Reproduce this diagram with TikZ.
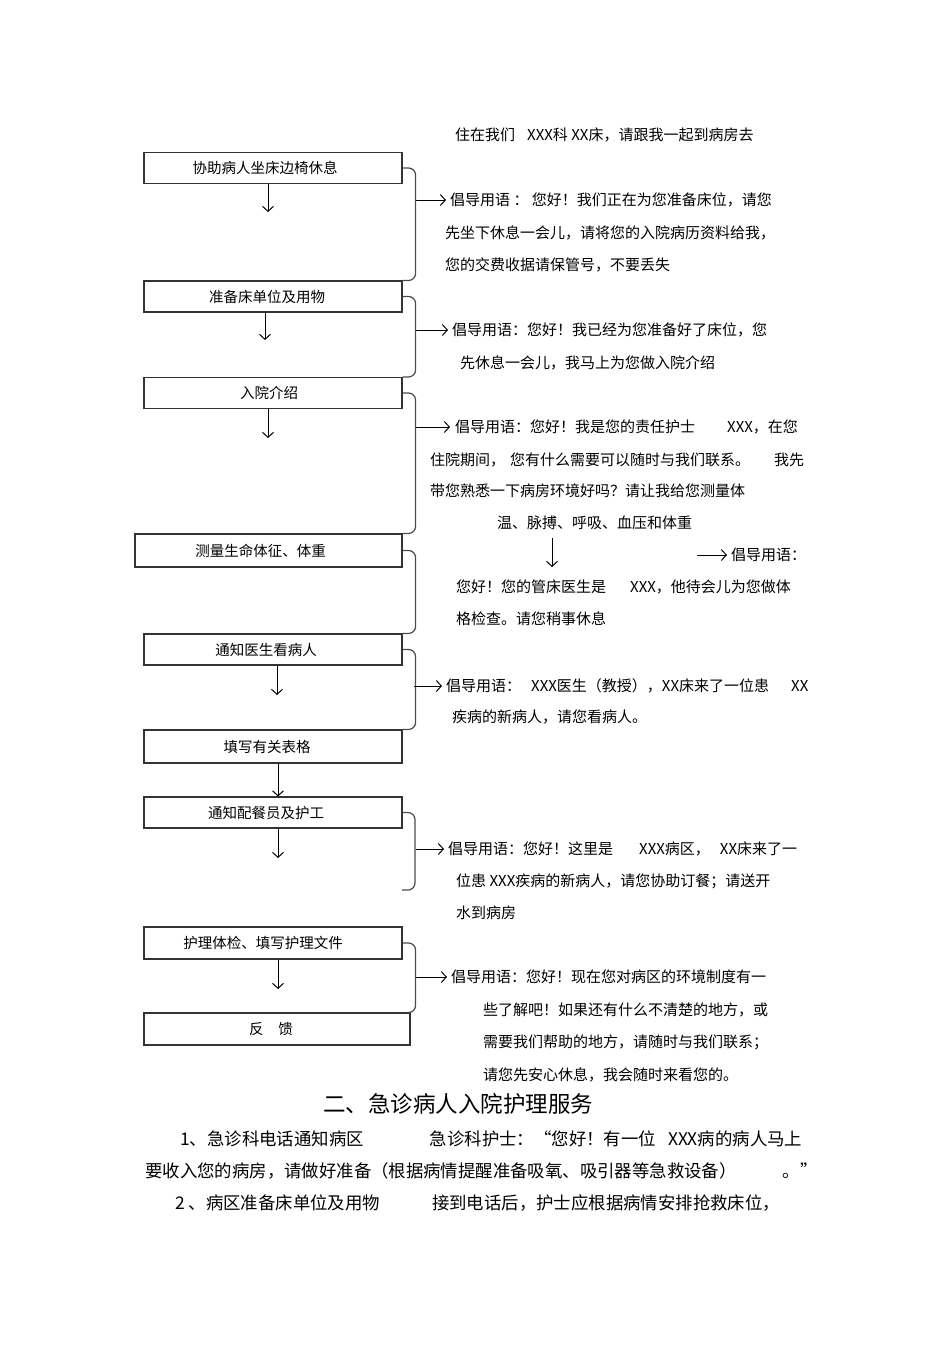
\documentclass[tikz,border=0pt]{standalone}
\usepackage{fontspec}
\setmainfont{Noto Sans CJK SC}
\usetikzlibrary{arrows.meta}

\begin{document}
\begin{tikzpicture}[x=1pt,y=1pt,
  stepbox/.style={draw=black!80,line width=1.1pt,minimum width=258pt,minimum height=31pt,inner sep=0pt,font=\fontsize{14.5}{14.5}\selectfont},
  say/.style={anchor=west,inner sep=0pt,font=\fontsize{15}{15}\selectfont},
  arr/.style={-{Straight Barb[length=5pt,width=11pt]},line width=1pt},
  brace/.style={draw=black!70,line width=1.2pt,rounded corners=7pt}]
\useasboundingbox (0,0) rectangle (950,-1345);
\node[say] (top) at (455,-135) {住在我们\hspace{12pt}XXX科 XX床，请跟我一起到病房去};
\node[stepbox] (sit) at (273,-168) {\hspace{-16pt}协助病人坐床边椅休息};
\node[stepbox] (bed) at (273,-296.5) {\hspace{-12pt}准备床单位及用物};
\node[stepbox] (intro) at (273,-393) {\hspace{-8pt}入院介绍};
\node[stepbox,minimum width=267pt,minimum height=33pt] (vital) at (268.5,-550.5) {\hspace{-16pt}测量生命体征、体重};
\node[stepbox] (doctor) at (273,-649.5) {\hspace{-14pt}通知医生看病人};
\node[stepbox,minimum height=33pt] (forms) at (273,-746.5) {\hspace{-12pt}填写有关表格};
\node[stepbox] (meal) at (273,-812.5) {\hspace{-14pt}通知配餐员及护工};
\node[stepbox,minimum height=32pt] (nurse) at (273,-943) {\hspace{-20pt}护理体检、填写护理文件};
\node[stepbox,minimum width=266pt,minimum height=32pt] (feed) at (277,-1029) {\hspace{-12pt}反\hspace{15pt}馈};
\coordinate (a1) at (268,-212);
\coordinate (a2) at (265,-340);
\coordinate (a3) at (268,-438);
\coordinate (a5) at (277,-695);
\coordinate (a7) at (278,-858);
\coordinate (a8) at (278,-989);
\coordinate (a4) at (552,-567);
\coordinate (e7) at (402,-890);
\draw[arr] (sit.south -| a1) -- (a1);
\draw[arr] (bed.south -| a2) -- (a2);
\draw[arr] (intro.south -| a3) -- (a3);
\draw[arr] (doctor.south -| a5) -- (a5);
\draw[arr] ([xshift=5pt]forms.south) -- ([xshift=5pt]meal.north);
\draw[arr] (meal.south -| a7) -- (a7);
\draw[arr] (nurse.south -| a8) -- (a8);
\draw[brace] (sit.east) -| ([xshift=13pt]bed.north east) -- (bed.north east);
\draw[brace] (bed.east) -| ([xshift=13pt]intro.north east) -- (intro.north east);
\draw[brace] (intro.east) -| ([xshift=13pt]intro.east |- vital.north) -- (vital.north east);
\draw[brace] (vital.east) -| ([xshift=13pt]doctor.north east) -- (doctor.north east);
\draw[brace] (doctor.east) -| ([xshift=13pt]forms.north east) -- (forms.north east);
\draw[brace] (meal.east) -| ([xshift=13pt]e7) -- (e7);
\draw[brace] (nurse.east) -| ([xshift=13pt]nurse.east |- feed.north) -- (feed.north east);
\node[say] (tip1) at (450,-200) {倡导用语 ： 您好！我们正在为您准备床位，请您};
\node[say] (tip1b) at (445,-233) {先坐下休息一会儿，请将您的入院病历资料给我，};
\node[say] (tip1c) at (445,-265) {您的交费收据请保管号，不要丢失};
\node[say] (tip2) at (452,-330) {倡导用语：您好！我已经为您准备好了床位，您};
\node[say] (tip2b) at (460,-363) {先休息一会儿，我马上为您做入院介绍};
\node[say] (tip3) at (455,-427) {倡导用语：您好！我是您的责任护士\hspace{32pt}XXX，在您};
\node[say] (tip3b) at (430,-460) {住院期间，\hspace{5pt}您有什么需要可以随时与我们联系。\hspace{24pt}我先};
\node[say] (tip3c) at (430,-491) {带您熟悉一下病房环境好吗？请让我给您测量体};
\node[say] (tip3d) at (497,-523) {温、脉搏、呼吸、血压和体重};
\node[say] (tip4) at (731,-555) {倡导用语：};
\node[say] (tip4b) at (456,-587) {您好！您的管床医生是\hspace{24pt}XXX，他待会儿为您做体};
\node[say] (tip4c) at (456,-619) {格检查。请您稍事休息};
\node[say] (tip5) at (446,-686) {倡导用语：\hspace{10pt}XXX医生（教授），XX床来了一位患\hspace{22pt}XX};
\node[say] (tip5b) at (452,-717) {疾病的新病人，请您看病人。};
\node[say] (tip7) at (448,-849) {倡导用语：您好！这里是\hspace{26pt}XXX病区，\hspace{10pt}XX床来了一};
\node[say] (tip7b) at (456,-881) {位患 XXX疾病的新病人，请您协助订餐；请送开};
\node[say] (tip7c) at (456,-913) {水到病房};
\node[say] (tip8) at (451,-977) {倡导用语：您好！现在您对病区的环境制度有一};
\node[say] (tip8b) at (483,-1010) {些了解吧！如果还有什么不清楚的地方，或};
\node[say] (tip8c) at (483,-1042) {需要我们帮助的地方，请随时与我们联系；};
\node[say] (tip8d) at (483,-1075) {请您先安心休息，我会随时来看您的。};
\draw[arr] (tip3d.south -| a4) ++(0,-8) -- (a4);
\draw[arr] ([xshift=-34pt]tip4.west) -- ([xshift=-4pt]tip4.west);
\draw[arr] ([xshift=13pt]sit.east |- tip1.west) -- ([xshift=-4pt]tip1.west);
\draw[arr] ([xshift=13pt]bed.east |- tip2.west) -- ([xshift=-4pt]tip2.west);
\draw[arr] ([xshift=13pt]intro.east |- tip3.west) -- ([xshift=-5pt]tip3.west);
\draw[arr] ([xshift=11pt]doctor.east |- tip5.west) -- ([xshift=-4pt]tip5.west);
\draw[arr] ([xshift=13pt]meal.east |- tip7.west) -- ([xshift=-4pt]tip7.west);
\draw[arr] ([xshift=13pt]nurse.east |- tip8.west) -- ([xshift=-4pt]tip8.west);
\node[font=\fontsize{22.5}{22.5}\selectfont] (head) at (458,-1104) {二、急诊病人入院护理服务};
\node[anchor=west,inner sep=0pt,font=\fontsize{17.4}{17.4}\selectfont] (par1) at (180,-1139) {1、急诊科电话通知病区\hspace{66pt}急诊科护士：“您好！有一位\hspace{12pt}XXX病的病人马上};
\node[anchor=west,inner sep=0pt,font=\fontsize{17.4}{17.4}\selectfont] (par2) at (145,-1171) {要收入您的病房，请做好准备（根据病情提醒准备吸氧、吸引器等急救设备）\hspace{46pt}。”};
\node[anchor=west,inner sep=0pt,font=\fontsize{17.4}{17.4}\selectfont] (par3) at (175,-1203) {2 、病区准备床单位及用物\hspace{52pt}接到电话后，护士应根据病情安排抢救床位，};
\end{tikzpicture}
\end{document}
